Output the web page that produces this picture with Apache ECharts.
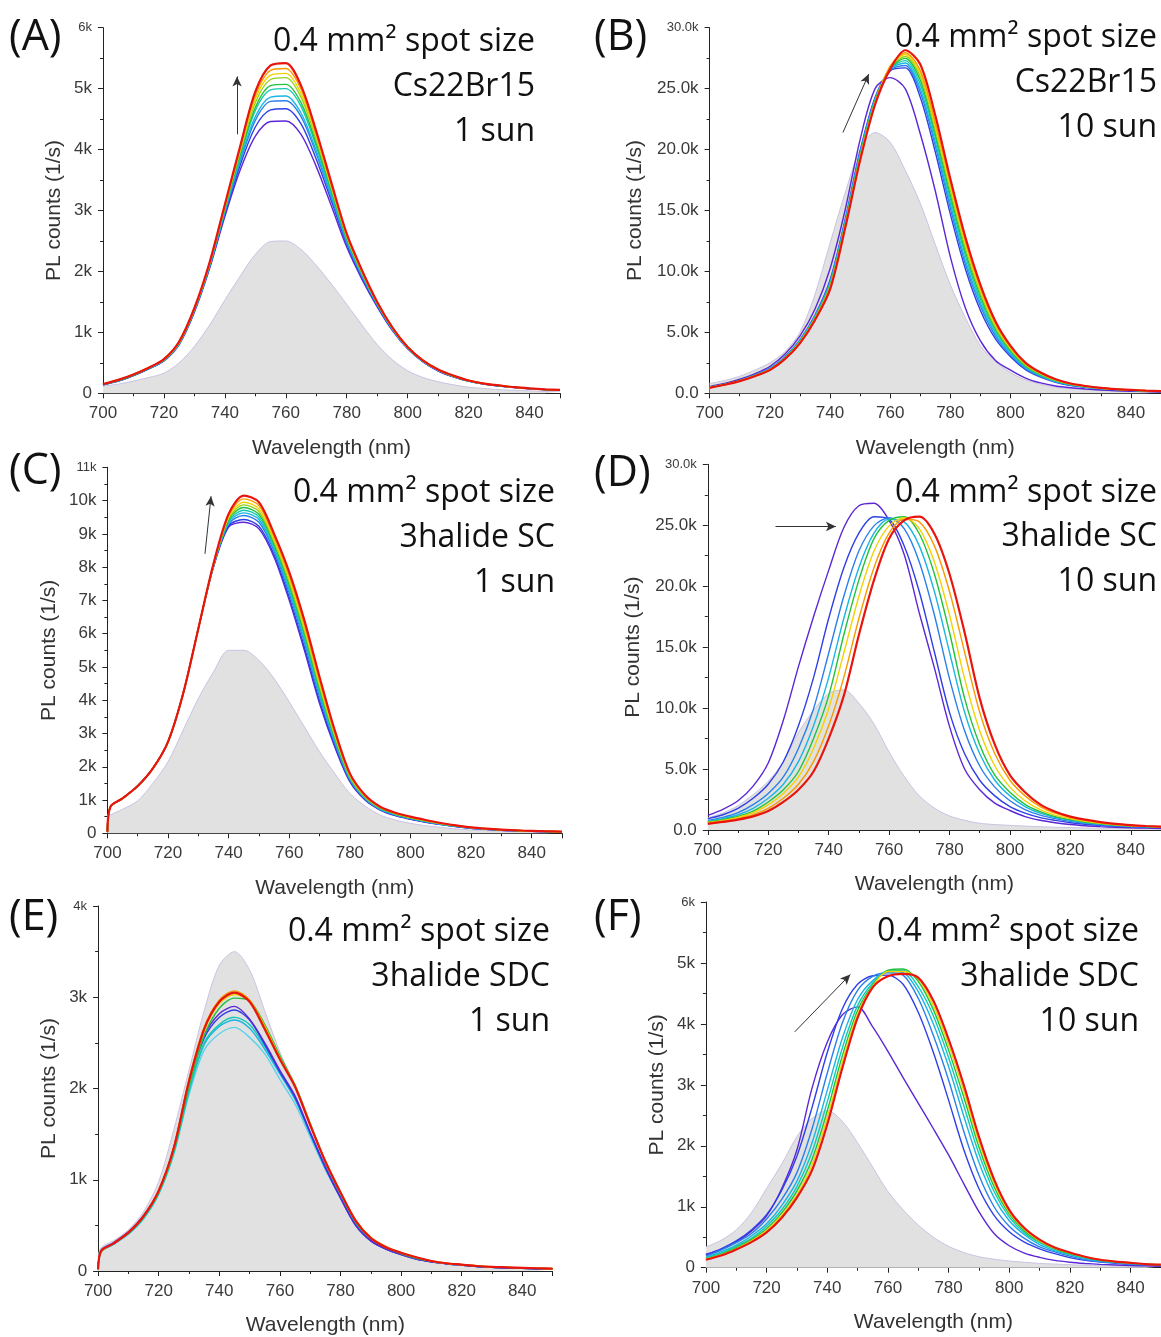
<!DOCTYPE html>
<html><head><meta charset="utf-8">
<script src="https://cdn.jsdelivr.net/npm/echarts@6/dist/echarts.min.js"></script>
<style>html,body{margin:0;padding:0;background:#fff}#c{width:1161px;height:1337px}</style>
</head><body><div id="c"></div>
<script>
// ---------- DATA (PL counts in thousands, 1/s) ----------
const wl = [700,705,710,715,720,725,730,735,740,745,750,755,760,765,770,775,780,785,790,795,800,805,810,815,820,825,830,835,840,845,850];
const wlEdge = [700,701,705,710,715,720,725,730,735,740,745,750,755,760,765,770,775,780,785,790,795,800,805,810,815,820,825,830,835,840,845,850];

// (A) Cs22Br15, 1 sun
const A_gray   = [0.12,0.15,0.2,0.26,0.33,0.5,0.77,1.12,1.53,1.92,2.28,2.49,2.5,2.36,2.1,1.79,1.46,1.12,0.8,0.55,0.37,0.26,0.19,0.14,0.1,0.08,0.06,0.05,0.04,0.03,0.03];
const A_violet = [0.14,0.2,0.29,0.4,0.53,0.8,1.33,2.05,2.9,3.66,4.22,4.46,4.47,4.25,3.72,3.07,2.4,1.87,1.42,1.03,0.73,0.52,0.37,0.27,0.2,0.15,0.12,0.095,0.075,0.06,0.05];
const A_blue   = [0.14,0.2,0.29,0.4,0.54,0.81,1.35,2.07,2.94,3.74,4.37,4.65,4.67,4.42,3.84,3.15,2.45,1.9,1.44,1.04,0.74,0.52,0.37,0.27,0.2,0.152,0.12,0.096,0.076,0.061,0.051];
const A_azure  = [0.14,0.21,0.3,0.41,0.54,0.82,1.36,2.09,2.97,3.8,4.48,4.79,4.8,4.54,3.93,3.21,2.48,1.92,1.45,1.05,0.74,0.52,0.38,0.28,0.2,0.155,0.122,0.097,0.077,0.062,0.052];
const A_cyan   = [0.14,0.21,0.3,0.41,0.54,0.82,1.36,2.09,2.99,3.83,4.54,4.86,4.88,4.6,3.98,3.24,2.5,1.94,1.46,1.05,0.74,0.53,0.38,0.28,0.2,0.155,0.125,0.098,0.078,0.062,0.052];
const A_teal   = [0.15,0.21,0.3,0.41,0.55,0.82,1.37,2.11,3.01,3.88,4.64,4.98,5.0,4.71,4.05,3.29,2.53,1.96,1.47,1.06,0.75,0.53,0.38,0.28,0.2,0.155,0.125,0.1,0.078,0.063,0.053];
const A_green  = [0.15,0.21,0.3,0.41,0.55,0.83,1.38,2.12,3.03,3.91,4.69,5.05,5.07,4.77,4.1,3.32,2.54,1.97,1.47,1.06,0.75,0.53,0.38,0.28,0.21,0.16,0.125,0.1,0.08,0.063,0.053];
const A_ygreen = [0.15,0.22,0.31,0.42,0.55,0.83,1.38,2.13,3.05,3.96,4.77,5.15,5.18,4.86,4.16,3.36,2.57,1.98,1.48,1.07,0.75,0.53,0.38,0.28,0.21,0.16,0.13,0.1,0.08,0.065,0.055];
const A_yellow = [0.15,0.22,0.31,0.42,0.56,0.84,1.39,2.13,3.07,3.99,4.83,5.22,5.25,4.92,4.21,3.39,2.58,1.99,1.49,1.07,0.76,0.54,0.39,0.29,0.21,0.16,0.13,0.1,0.08,0.065,0.055];
const A_orange = [0.15,0.22,0.31,0.42,0.56,0.84,1.39,2.14,3.08,4.02,4.89,5.3,5.33,4.99,4.25,3.42,2.6,2.01,1.49,1.08,0.76,0.54,0.39,0.29,0.21,0.16,0.13,0.1,0.08,0.065,0.055];
const A_red    = [0.15,0.22,0.31,0.42,0.56,0.85,1.4,2.15,3.1,4.05,4.95,5.38,5.42,5.05,4.3,3.45,2.62,2.02,1.5,1.08,0.76,0.54,0.39,0.29,0.21,0.16,0.13,0.1,0.08,0.065,0.055];

// (B) Cs22Br15, 10 sun
const B_gray   = [0.8,1.05,1.4,1.9,2.5,3.4,5.0,8.1,12.3,16.4,20.0,21.4,20.6,18.3,15.6,12.2,8.9,6.2,3.9,2.6,1.7,1.1,0.75,0.5,0.38,0.3,0.22,0.17,0.13,0.1,0.08];
const B_violet = [0.55,0.8,1.15,1.6,2.2,3.2,4.7,6.9,10.2,15.0,20.8,25.0,25.9,25.0,21.3,16.6,11.2,7.0,4.3,2.7,1.9,1.25,0.85,0.6,0.45,0.35,0.27,0.21,0.17,0.14,0.11];
const B_blue   = [0.5,0.75,1.07,1.49,2.04,2.98,4.37,6.4,9.27,14.2,19.9,24.3,26.45,26.7,24.3,19.8,14.7,10.2,6.8,4.46,3.0,1.94,1.32,0.9,0.64,0.49,0.37,0.29,0.23,0.18,0.15];
const B_azure  = [0.49,0.74,1.06,1.48,2.01,2.95,4.33,6.34,9.15,14.07,19.75,24.2,26.5,26.9,24.7,20.3,15.2,10.6,7.15,4.7,3.14,2.03,1.38,0.94,0.67,0.5,0.38,0.3,0.24,0.19,0.15];
const B_cyan   = [0.48,0.73,1.05,1.46,2.0,2.93,4.29,6.29,9.04,13.98,19.64,24.1,26.6,27.1,25.0,20.6,15.55,10.9,7.4,4.88,3.26,2.1,1.43,0.97,0.69,0.52,0.39,0.31,0.24,0.19,0.16];
const B_teal   = [0.47,0.72,1.04,1.45,1.98,2.9,4.26,6.23,8.94,13.9,19.54,24.04,26.64,27.3,25.37,21.0,15.94,11.3,7.7,5.07,3.38,2.18,1.48,1.0,0.71,0.53,0.4,0.31,0.25,0.2,0.16];
const B_green  = [0.47,0.72,1.03,1.44,1.96,2.88,4.22,6.18,8.84,13.8,19.44,23.96,26.7,27.48,25.7,21.3,16.3,11.64,7.98,5.26,3.5,2.25,1.53,1.04,0.73,0.55,0.41,0.32,0.26,0.2,0.17];
const B_ygreen = [0.46,0.71,1.02,1.43,1.95,2.86,4.19,6.14,8.76,13.73,19.36,23.9,26.75,27.64,26.0,21.6,16.64,11.93,8.21,5.42,3.6,2.31,1.57,1.07,0.75,0.56,0.42,0.33,0.26,0.21,0.17];
const B_yellow = [0.46,0.71,1.02,1.42,1.93,2.84,4.16,6.09,8.67,13.65,19.27,23.83,26.8,27.8,26.25,21.9,16.96,12.22,8.44,5.58,3.7,2.38,1.62,1.1,0.77,0.58,0.43,0.34,0.27,0.21,0.17];
const B_orange = [0.45,0.7,1.01,1.41,1.92,2.82,4.13,6.05,8.6,13.58,19.2,23.77,26.85,27.95,26.5,22.2,17.3,12.5,8.67,5.74,3.8,2.44,1.66,1.12,0.78,0.59,0.44,0.35,0.28,0.22,0.18];
const B_red    = [0.45,0.7,1.0,1.4,1.9,2.8,4.1,6.0,8.5,13.5,19.1,23.7,26.6,28.15,27.0,22.8,17.6,12.8,8.9,5.9,3.9,2.5,1.7,1.15,0.8,0.6,0.45,0.35,0.28,0.22,0.18];

// (C) 3halide SC, 1 sun  (x = wlEdge)
const C_gray   = [0.45,0.55,0.72,0.98,1.5,2.15,3.1,4.05,4.85,5.5,5.5,5.2,4.65,3.95,3.2,2.45,1.8,1.2,0.82,0.55,0.4,0.3,0.23,0.18,0.13,0.1,0.08,0.06,0.05,0.04,0.03,0.03];
const C_violet = [0.05,0.8,1.05,1.42,1.95,2.75,4.2,6.15,8.0,9.2,9.35,9.15,8.3,7.0,5.5,3.9,2.6,1.55,1.0,0.7,0.53,0.42,0.33,0.26,0.2,0.15,0.12,0.09,0.075,0.06,0.05,0.04];
const C_blue   = [0.05,0.8,1.05,1.42,1.95,2.75,4.2,6.15,8.01,9.24,9.43,9.23,8.37,7.09,5.59,3.98,2.65,1.58,1.02,0.71,0.54,0.43,0.34,0.27,0.2,0.15,0.12,0.09,0.075,0.06,0.05,0.04];
const C_azure  = [0.05,0.8,1.05,1.42,1.95,2.75,4.2,6.15,8.03,9.3,9.55,9.35,8.48,7.21,5.73,4.1,2.73,1.61,1.04,0.72,0.55,0.44,0.35,0.27,0.21,0.16,0.12,0.095,0.08,0.063,0.053,0.043];
const C_cyan   = [0.05,0.8,1.05,1.42,1.95,2.75,4.2,6.15,8.04,9.34,9.63,9.43,8.55,7.3,5.82,4.18,2.78,1.64,1.05,0.73,0.56,0.45,0.35,0.28,0.21,0.16,0.125,0.097,0.08,0.064,0.054,0.044];
const C_teal   = [0.05,0.8,1.05,1.42,1.95,2.75,4.2,6.15,8.05,9.38,9.71,9.51,8.62,7.38,5.91,4.26,2.83,1.66,1.07,0.74,0.57,0.46,0.36,0.28,0.22,0.165,0.13,0.1,0.082,0.065,0.055,0.045];
const C_green  = [0.05,0.8,1.05,1.42,1.95,2.75,4.2,6.15,8.06,9.42,9.79,9.59,8.69,7.47,6.0,4.34,2.88,1.69,1.08,0.76,0.58,0.46,0.37,0.29,0.22,0.17,0.13,0.1,0.083,0.066,0.056,0.046];
const C_ygreen = [0.05,0.8,1.05,1.42,1.95,2.75,4.2,6.15,8.07,9.46,9.87,9.67,8.76,7.55,6.09,4.42,2.93,1.71,1.1,0.77,0.59,0.47,0.38,0.29,0.23,0.17,0.133,0.103,0.085,0.067,0.057,0.047];
const C_yellow = [0.05,0.8,1.05,1.42,1.95,2.75,4.2,6.15,8.08,9.5,9.95,9.75,8.83,7.64,6.18,4.5,2.98,1.74,1.11,0.78,0.6,0.48,0.38,0.3,0.23,0.175,0.135,0.105,0.086,0.068,0.058,0.048];
const C_orange = [0.05,0.8,1.05,1.42,1.95,2.75,4.2,6.15,8.09,9.55,10.05,9.85,8.91,7.74,6.28,4.6,3.04,1.77,1.13,0.79,0.61,0.49,0.39,0.3,0.235,0.178,0.138,0.108,0.088,0.069,0.059,0.049];
const C_red    = [0.05,0.8,1.05,1.42,1.95,2.75,4.2,6.15,8.1,9.6,10.15,9.95,9.0,7.85,6.4,4.7,3.1,1.8,1.15,0.8,0.62,0.5,0.4,0.31,0.24,0.18,0.14,0.11,0.09,0.07,0.06,0.05];

// (D) 3halide SC, 10 sun
const D_gray   = [1.0,1.4,2.0,2.9,4.0,5.6,8.0,9.8,11.2,11.5,10.4,8.7,6.4,4.4,2.8,1.8,1.15,0.8,0.55,0.45,0.38,0.32,0.27,0.23,0.2,0.17,0.15,0.13,0.11,0.1,0.09];
const D_violet = [1.2,1.7,2.4,3.6,5.5,9.0,13.4,17.5,21.3,24.8,26.6,26.8,25.4,22.6,17.8,13.3,8.5,5.0,3.3,2.2,1.6,1.1,0.8,0.6,0.45,0.35,0.28,0.22,0.18,0.15,0.12];
const D_blue   = [0.93,1.25,1.78,2.6,3.75,5.6,8.55,12.5,17.35,21.5,24.35,25.7,25.5,23.3,19.55,14.6,9.65,6.25,4.08,2.8,1.92,1.38,1.02,0.79,0.6,0.47,0.38,0.31,0.26,0.23,0.2];
const D_azure  = [0.79,1.04,1.42,2.08,3.0,4.35,6.69,9.95,14.5,19.15,22.88,24.95,25.61,24.72,21.99,17.64,12.42,8.14,5.25,3.52,2.4,1.68,1.22,0.93,0.71,0.55,0.43,0.35,0.3,0.26,0.23];
const D_cyan   = [0.72,0.93,1.25,1.78,2.6,3.75,5.61,8.55,12.5,17.35,21.52,24.35,25.49,25.28,23.31,19.56,14.58,9.66,6.25,4.08,2.8,1.92,1.38,1.03,0.79,0.6,0.47,0.38,0.31,0.27,0.24];
const D_green  = [0.66,0.85,1.12,1.55,2.3,3.3,4.8,7.5,11.0,16.0,20.5,23.9,25.4,25.7,24.3,21.0,16.2,10.8,7.0,4.5,3.1,2.1,1.5,1.1,0.85,0.65,0.5,0.4,0.33,0.28,0.25];
const D_yellow = [0.61,0.79,1.04,1.42,2.08,3.0,4.35,6.69,9.95,14.5,19.15,22.88,24.95,25.61,24.72,21.99,17.64,12.42,8.14,5.25,3.52,2.4,1.68,1.22,0.93,0.71,0.55,0.43,0.35,0.3,0.26];
const D_orange = [0.55,0.72,0.93,1.25,1.78,2.6,3.75,5.61,8.55,12.5,17.35,21.52,24.35,25.49,25.28,23.31,19.56,14.58,9.66,6.25,4.08,2.8,1.92,1.38,1.03,0.79,0.6,0.47,0.38,0.31,0.27];
const D_red    = [0.5,0.66,0.85,1.12,1.55,2.3,3.3,4.8,7.5,11.0,16.0,20.5,23.9,25.4,25.7,24.3,21.0,16.2,10.8,7.0,4.5,3.1,2.1,1.5,1.1,0.85,0.65,0.5,0.4,0.33,0.28];

// (E) 3halide SDC, 1 sun  (x = wlEdge)
const E_gray   = [0.15,0.26,0.33,0.45,0.65,0.98,1.55,2.2,2.85,3.35,3.5,3.3,2.85,2.4,2.02,1.6,1.2,0.85,0.52,0.35,0.25,0.18,0.13,0.1,0.08,0.06,0.05,0.04,0.035,0.03,0.025,0.02];
const E_lcyan  = [0.02,0.21,0.29,0.4,0.57,0.84,1.28,1.93,2.42,2.6,2.67,2.56,2.38,2.1,1.83,1.47,1.11,0.8,0.5,0.33,0.24,0.18,0.13,0.1,0.08,0.065,0.05,0.04,0.035,0.03,0.025,0.02];
const E_cyan   = [0.02,0.21,0.29,0.41,0.58,0.85,1.3,1.97,2.48,2.68,2.75,2.66,2.43,2.16,1.88,1.5,1.13,0.81,0.51,0.34,0.25,0.19,0.14,0.1,0.08,0.065,0.05,0.04,0.035,0.03,0.025,0.02];
const E_teal   = [0.02,0.21,0.3,0.41,0.58,0.85,1.3,1.98,2.5,2.7,2.78,2.7,2.46,2.18,1.9,1.52,1.15,0.82,0.52,0.34,0.25,0.19,0.14,0.1,0.08,0.065,0.05,0.04,0.035,0.03,0.025,0.02];
const E_blue   = [0.02,0.22,0.3,0.42,0.6,0.87,1.34,2.05,2.55,2.78,2.86,2.75,2.48,2.18,1.9,1.51,1.13,0.8,0.5,0.33,0.24,0.18,0.13,0.1,0.08,0.065,0.05,0.04,0.035,0.03,0.025,0.02];
const E_violet = [0.02,0.23,0.31,0.43,0.61,0.88,1.36,2.08,2.58,2.82,2.9,2.76,2.5,2.2,1.92,1.52,1.14,0.8,0.5,0.33,0.24,0.18,0.13,0.1,0.08,0.065,0.05,0.04,0.035,0.03,0.025,0.02];
const E_green  = [0.02,0.21,0.3,0.41,0.59,0.86,1.32,2.02,2.58,2.88,2.99,2.96,2.7,2.36,2.04,1.62,1.2,0.85,0.54,0.36,0.26,0.19,0.14,0.11,0.085,0.07,0.055,0.045,0.04,0.035,0.03,0.025];
const E_yellow = [0.02,0.21,0.3,0.42,0.6,0.87,1.34,2.07,2.63,2.93,3.03,2.96,2.68,2.34,2.03,1.61,1.2,0.86,0.55,0.36,0.26,0.2,0.15,0.11,0.085,0.07,0.055,0.045,0.04,0.035,0.03,0.025];
const E_orange = [0.02,0.22,0.3,0.42,0.6,0.88,1.36,2.1,2.67,2.97,3.07,2.97,2.67,2.33,2.03,1.61,1.21,0.87,0.56,0.37,0.27,0.2,0.15,0.11,0.085,0.07,0.055,0.045,0.04,0.035,0.03,0.025];
const E_red    = [0.02,0.22,0.3,0.42,0.6,0.88,1.35,2.08,2.65,2.95,3.05,2.95,2.65,2.32,2.02,1.6,1.2,0.86,0.55,0.36,0.26,0.2,0.15,0.11,0.085,0.07,0.055,0.045,0.04,0.035,0.03,0.025];

// (F) 3halide SDC, 10 sun
const F_gray   = [0.34,0.45,0.62,0.9,1.3,1.7,2.15,2.45,2.58,2.4,2.05,1.65,1.25,0.95,0.7,0.5,0.35,0.25,0.18,0.14,0.11,0.09,0.07,0.06,0.05,0.04,0.035,0.03,0.025,0.02,0.02];
const F_violet = [0.22,0.3,0.42,0.6,0.85,1.3,1.93,2.95,3.7,4.15,4.28,3.95,3.55,3.12,2.7,2.28,1.85,1.38,0.92,0.56,0.36,0.24,0.17,0.12,0.09,0.07,0.055,0.045,0.035,0.03,0.025];
const F_blue   = [0.21,0.31,0.44,0.62,0.87,1.27,1.83,2.63,3.53,4.25,4.65,4.79,4.8,4.65,4.19,3.53,2.75,1.94,1.3,0.86,0.59,0.42,0.31,0.23,0.165,0.12,0.094,0.074,0.057,0.047,0.04];
const F_azure  = [0.19,0.29,0.41,0.56,0.8,1.12,1.56,2.28,3.19,4.02,4.55,4.78,4.84,4.8,4.42,3.81,3.08,2.24,1.52,1.0,0.68,0.48,0.34,0.26,0.19,0.135,0.1,0.08,0.06,0.05,0.045];
const F_cyan   = [0.17,0.26,0.37,0.52,0.72,1.02,1.42,2.05,2.91,3.77,4.4,4.71,4.86,4.84,4.53,4.0,3.3,2.49,1.73,1.15,0.77,0.54,0.38,0.28,0.21,0.15,0.11,0.088,0.068,0.054,0.045];
const F_teal   = [0.16,0.24,0.35,0.48,0.68,0.95,1.33,1.9,2.72,3.61,4.3,4.67,4.87,4.88,4.61,4.13,3.45,2.66,1.87,1.25,0.83,0.57,0.41,0.3,0.22,0.16,0.12,0.09,0.07,0.056,0.047];
const F_green  = [0.15,0.22,0.33,0.46,0.64,0.9,1.26,1.78,2.57,3.48,4.22,4.64,4.88,4.9,4.7,4.23,3.57,2.8,1.98,1.33,0.88,0.6,0.43,0.31,0.23,0.17,0.125,0.095,0.075,0.058,0.048];
const F_yellow = [0.14,0.21,0.31,0.44,0.61,0.86,1.2,1.69,2.46,3.38,4.16,4.62,4.86,4.86,4.74,4.3,3.66,2.9,2.07,1.39,0.91,0.63,0.44,0.32,0.24,0.175,0.13,0.098,0.078,0.06,0.05];
const F_red    = [0.13,0.2,0.3,0.42,0.58,0.82,1.15,1.6,2.35,3.28,4.1,4.6,4.78,4.82,4.76,4.38,3.75,3.0,2.15,1.45,0.95,0.65,0.46,0.33,0.25,0.18,0.13,0.1,0.08,0.06,0.05];

// Arrow annotations [start, end] in data units (nm, k counts)
const A_arrow = [[744, 4.25], [744, 5.2]];
const B_arrow = [[744.3, 21.4], [752.9, 26.2]];
const C_arrow = [[732.2, 8.4], [734.2, 10.13]];
const D_arrow = [[722.4, 24.9], [742.4, 24.9]];
const F_arrow = [[729.3, 3.87], [747.6, 4.81]];

// Texts
const spotText = '0.4 mm² spot size';
const labelsText = {
  A: ['Cs22Br15', '1 sun'], B: ['Cs22Br15', '10 sun'],
  C: ['3halide SC', '1 sun'], D: ['3halide SC', '10 sun'],
  E: ['3halide SDC', '1 sun'], F: ['3halide SDC', '10 sun']
};

// ---------- STYLE ----------
const TICK_FONT = '"Liberation Sans", Arial, sans-serif';
const TEXT_FONT = '"Open Sans", Lato, sans-serif';
const COL = {violet:'#5b27d6', blue:'#2f3fe6', azure:'#2b7fea', cyan:'#1bb5e3', lcyan:'#5ad3ea', teal:'#16c9b4',
             green:'#23c23c', ygreen:'#95d21d', yellow:'#f2d200', orange:'#f79a00', red:'#e8140d'};

const panels = [
  {id:'A', grid:{left:103, top:27.7, width:457, height:365.6}, yMax:6, yInt:1, dec:false, yGap:38, xs:wl, gray:A_gray,
   curves:[['violet',A_violet],['blue',A_blue],['azure',A_azure],['cyan',A_cyan],['teal',A_teal],['green',A_green],['ygreen',A_ygreen],['yellow',A_yellow],['orange',A_orange],['red',A_red]],
   arrow:A_arrow, letter:[9,38], tr:535, ty:[42,87,132]},
  {id:'B', grid:{left:709.6, top:27.7, width:453, height:365.6}, yMax:30, yInt:5, dec:true, yGap:64, xs:wl, gray:B_gray,
   curves:[['violet',B_violet],['blue',B_blue],['azure',B_azure],['cyan',B_cyan],['teal',B_teal],['green',B_green],['ygreen',B_ygreen],['yellow',B_yellow],['orange',B_orange],['red',B_red]],
   arrow:B_arrow, letter:[594,38], tr:1157, ty:[38,83,128]},
  {id:'C', grid:{left:107.4, top:467.3, width:454.6, height:366}, yMax:11, yInt:1, dec:false, yGap:48, xs:wlEdge, gray:C_gray,
   curves:[['violet',C_violet],['blue',C_blue],['azure',C_azure],['cyan',C_cyan],['teal',C_teal],['green',C_green],['ygreen',C_ygreen],['yellow',C_yellow],['orange',C_orange],['red',C_red]],
   arrow:C_arrow, letter:[9,472], tr:555, ty:[493,538,583]},
  {id:'D', grid:{left:707.8, top:464.3, width:454, height:365.7}, yMax:30, yInt:5, dec:true, yGap:64, xs:wl, gray:D_gray,
   curves:[['violet',D_violet],['blue',D_blue],['azure',D_azure],['cyan',D_cyan],['green',D_green],['yellow',D_yellow],['orange',D_orange],['red',D_red]],
   arrow:D_arrow, letter:[594,474], tr:1157, ty:[493,537,582]},
  {id:'E', grid:{left:98.1, top:906, width:454.5, height:365}, yMax:4, yInt:1, dec:false, yGap:38, xs:wlEdge, gray:E_gray,
   curves:[['lcyan',E_lcyan],['cyan',E_cyan],['teal',E_teal],['blue',E_blue],['violet',E_violet],['green',E_green],['yellow',E_yellow],['orange',E_orange],['red',E_red]],
   arrow:null, letter:[9,918], tr:550, ty:[932,977,1022]},
  {id:'F', grid:{left:705.9, top:902, width:455, height:365.7}, yMax:6, yInt:1, dec:false, yGap:38, xs:wl, gray:F_gray,
   curves:[['violet',F_violet],['blue',F_blue],['azure',F_azure],['cyan',F_cyan],['teal',F_teal],['green',F_green],['yellow',F_yellow],['red',F_red]],
   arrow:F_arrow, letter:[594,918], tr:1139, ty:[932,977,1022]}
];

const grid = [], xAxis = [], yAxis = [], series = [], graphic = [];
const axisCol = '#222', labCol = '#3a3a3a';

panels.forEach((p, i) => {
  grid.push(Object.assign({containLabel:false}, p.grid));
  xAxis.push({
    type:'value', gridIndex:i, min:700, max:850, interval:20,
    axisLine:{show:true, onZero:false, lineStyle:{color:axisCol, width:1}},
    axisTick:{show:true, inside:false, length:5, lineStyle:{color:axisCol}},
    minorTick:{show:true, splitNumber:2, length:3, lineStyle:{color:axisCol}},
    splitLine:{show:false},
    axisLabel:{showMaxLabel:false, fontFamily:TICK_FONT, fontSize:17, color:labCol, margin:12},
    name:'Wavelength (nm)', nameLocation:'middle', nameGap:44,
    nameTextStyle:{fontFamily:TICK_FONT, fontSize:21, color:'#333'}
  });
  const mx = p.yMax;
  const fmt = p.dec
    ? (v => v === 0 ? '0.0' : (v === mx ? '{s|' + v.toFixed(1) + 'k}' : v.toFixed(1) + 'k'))
    : (v => v === 0 ? '0' : (v === mx ? '{s|' + v + 'k}' : v + 'k'));
  yAxis.push({
    type:'value', gridIndex:i, min:0, max:p.yMax, interval:p.yInt,
    axisLine:{show:true, onZero:false, lineStyle:{color:axisCol, width:1}},
    axisTick:{show:true, inside:false, length:5, lineStyle:{color:axisCol}},
    minorTick:{show:true, splitNumber:2, length:3, lineStyle:{color:axisCol}},
    splitLine:{show:false},
    axisLabel:{fontFamily:TICK_FONT, fontSize:17, color:labCol, margin:11, formatter:fmt,
               rich:{s:{fontFamily:TICK_FONT, fontSize:13, color:labCol}}},
    name:'PL counts (1/s)', nameLocation:'middle', nameGap:p.yGap,
    nameTextStyle:{fontFamily:TICK_FONT, fontSize:21, color:'#333'}
  });
  series.push({
    type:'line', xAxisIndex:i, yAxisIndex:i, silent:true, z:1,
    data:p.xs.map((x, k) => [x, p.gray[k]]), showSymbol:false, smooth:0.3,
    lineStyle:{color:'#c9c2e2', width:1}, areaStyle:{color:'#e1e1e1', opacity:1}
  });
  p.curves.forEach(([c, ys], j) => {
    series.push({
      type:'line', xAxisIndex:i, yAxisIndex:i, silent:true, z:2 + j,
      data:p.xs.map((x, k) => [x, ys[k]]), showSymbol:false, smooth:0.3,
      lineStyle:{color:COL[c], width:c === 'red' ? 2.2 : 1.4}, itemStyle:{color:COL[c]}
    });
  });
  if (p.arrow) {
    series.push({
      type:'line', xAxisIndex:i, yAxisIndex:i, silent:true, z:30, data:[], showSymbol:false,
      markLine:{silent:true, animation:false, symbol:['none','arrow'], symbolSize:[7,10],
        lineStyle:{color:'#333', width:1, type:'solid'}, label:{show:false},
        emphasis:{disabled:true},
        data:[[{coord:p.arrow[0]}, {coord:p.arrow[1]}]]}
    });
  }
  graphic.push({type:'text', x:p.letter[0], y:p.letter[1], z:100,
    style:{text:'(' + p.id + ')', fontFamily:TEXT_FONT, fontSize:43, fill:'#111', align:'left', verticalAlign:'middle'}});
  const lines = [spotText].concat(labelsText[p.id]);
  lines.forEach((t, k) => {
    graphic.push({type:'text', x:p.tr, y:p.ty[k], z:100,
      style:{text:t, fontFamily:TEXT_FONT, fontSize:32, fill:'#111', align:'right', verticalAlign:'middle'}});
  });
});

const chart = echarts.init(document.getElementById('c'), null, {renderer:'canvas'});
chart.setOption({animation:false, backgroundColor:'#fff', grid, xAxis, yAxis, series, graphic});
</script></body></html>
